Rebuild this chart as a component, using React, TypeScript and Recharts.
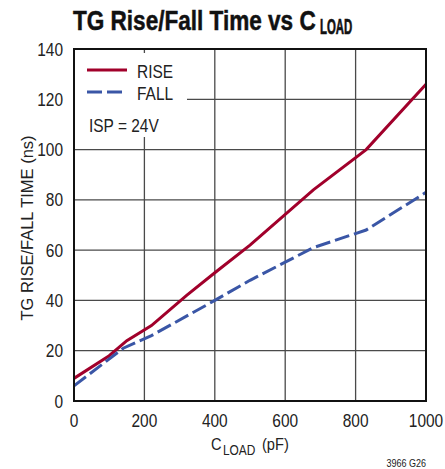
import React from "react";
import {
  LineChart,
  Line,
  XAxis,
  YAxis,
  CartesianGrid,
  ReferenceArea,
} from "recharts";

// C_LOAD (pF) vs TG rise time (ns)
const riseLoad = [0, 100, 150, 220, 320, 400, 500, 680, 830, 1000];
const riseTime = [9, 18, 24, 30, 42, 51, 62, 84, 100, 126];

// C_LOAD (pF) vs TG fall time (ns)
const fallLoad = [0, 140, 220, 400, 500, 680, 830, 1000];
const fallTime = [6, 21, 26, 40, 48, 61, 68, 83];

const xTicks = [0, 200, 400, 600, 800, 1000];
const yTicks = [0, 20, 40, 60, 80, 100, 120, 140];

const riseData = riseLoad.map((c, i) => ({ c, t: riseTime[i] }));
const fallData = fallLoad.map((c, i) => ({ c, t: fallTime[i] }));

const FONT = "'Liberation Sans', Arial, sans-serif";
const RED = "#A1002B";
const BLUE = "#3A56A6";
const INK = "#222";
const SQ = 0.86; // squeeze Liberation Sans into a condensed look

// plot box in pixels
const L = 74;
const T = 49;
const W = 352;
const H = 352;

// condensed text: scale glyphs horizontally around the anchor point
function Narrow({ x, y, size = 18, anchor = "start", weight = "normal", sq = SQ, fill = INK, heavy = 0, children }: any) {
  return (
    <text
      transform={`translate(${x},${y}) scale(${sq},1)`}
      fontSize={size}
      fontWeight={weight}
      fill={fill}
      stroke={heavy ? fill : "none"}
      strokeWidth={heavy}
      textAnchor={anchor}
      fontFamily={FONT}
    >
      {children}
    </text>
  );
}

function XTick({ x, y, payload }: any) {
  return (
    <Narrow x={x} y={y + 18} anchor="middle">
      {payload.value}
    </Narrow>
  );
}

function YTick({ x, y, payload }: any) {
  return (
    <Narrow x={x - 3} y={y + 6.5} anchor="end">
      {payload.value}
    </Narrow>
  );
}

export default function App() {
  return (
    <div
      style={{
        position: "absolute",
        left: 0,
        top: 0,
        width: 445,
        height: 469,
        background: "#fff",
      }}
    >
      <LineChart
        width={445}
        height={469}
        margin={{ top: T, right: 445 - L - W, bottom: 38, left: 14 }}
      >
        <CartesianGrid stroke="#4a4a4a" strokeWidth={1.3} />
        <XAxis
          type="number"
          dataKey="c"
          domain={[0, 1000]}
          ticks={xTicks}
          height={30}
          tickLine={false}
          axisLine={false}
          tick={<XTick />}
          interval={0}
          allowDuplicatedCategory={false}
        />
        <YAxis
          type="number"
          dataKey="t"
          domain={[0, 140]}
          ticks={yTicks}
          width={60}
          tickLine={false}
          axisLine={false}
          tick={<YTick />}
          interval={0}
        />
        <ReferenceArea
          x1={0}
          x2={321}
          y1={105}
          y2={138.4}
          fill="#fff"
          fillOpacity={1}
          stroke="none"
        />
        <Line
          data={riseData}
          dataKey="t"
          stroke={RED}
          strokeWidth={3}
          dot={false}
          type="linear"
          isAnimationActive={false}
        />
        <Line
          data={fallData}
          dataKey="t"
          stroke={BLUE}
          strokeWidth={3}
          strokeDasharray="15 5"
          dot={false}
          type="linear"
          isAnimationActive={false}
        />
      </LineChart>
      <svg
        width={445}
        height={469}
        style={{ position: "absolute", left: 0, top: 0, pointerEvents: "none" }}
      >
        <rect x={L} y={T} width={W} height={H} fill="none" stroke="#111" strokeWidth={2} />
        <Narrow x={73} y={29.5} size={28} weight="bold" sq={0.806} fill="#111" heavy={0.5}>
          TG Rise/Fall Time vs C
        </Narrow>
        <Narrow x={320} y={33.5} size={21.5} weight="bold" sq={0.53} fill="#111" heavy={0.7}>
          LOAD
        </Narrow>
        <line x1={87} y1={70} x2={127} y2={70} stroke={RED} strokeWidth={3} />
        <Narrow x={137} y={78}>RISE</Narrow>
        <line x1={87} y1={92} x2={127} y2={92} stroke={BLUE} strokeWidth={3} strokeDasharray="15 5" />
        <Narrow x={137} y={99.5}>FALL</Narrow>
        <Narrow x={89} y={131.5}>ISP = 24V</Narrow>
        <text
          x={33}
          y={228}
          fontSize={16.5}
          fill={INK}
          textAnchor="middle"
          fontFamily={FONT}
          transform="rotate(-90 33 228)"
        >
          TG RISE/FALL TIME (ns)
        </text>
        <Narrow x={211} y={450} size={17}>C</Narrow>
        <Narrow x={223} y={455} size={14} sq={0.85}>LOAD</Narrow>
        <Narrow x={262} y={450} size={17}>(pF)</Narrow>
        <Narrow x={426} y={467} size={11} anchor="end" sq={0.82}>
          3966 G26
        </Narrow>
      </svg>
    </div>
  );
}
